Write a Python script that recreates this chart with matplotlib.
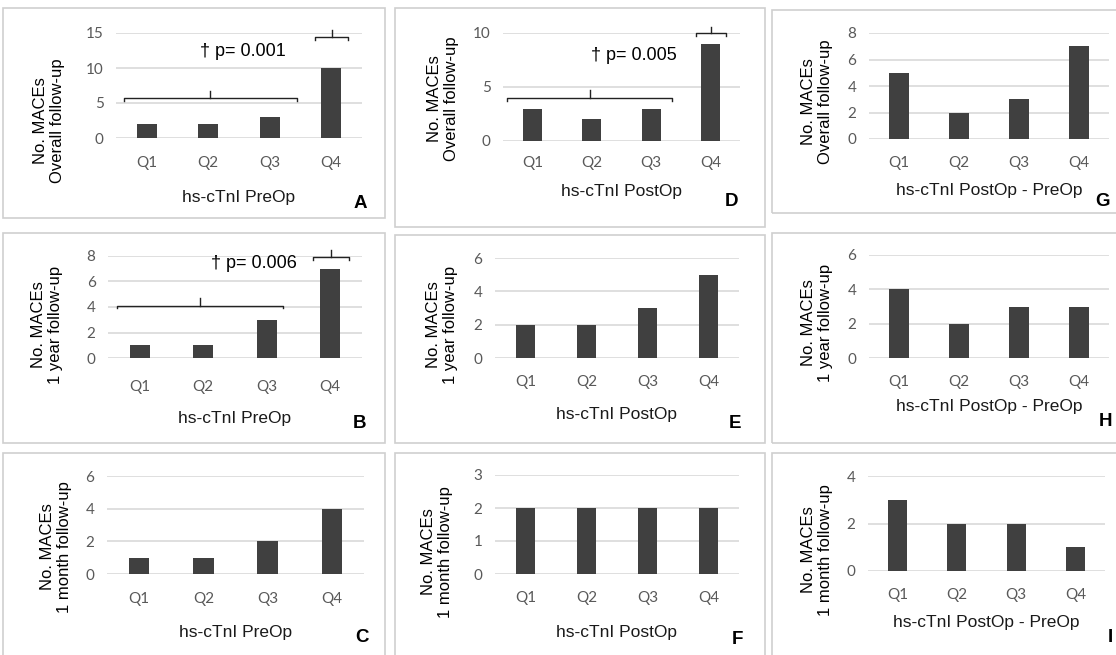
import numpy as np
import matplotlib
matplotlib.use("Agg")
from matplotlib import pyplot as plt
from matplotlib.patches import Rectangle

W, H = 1116, 655

categories = ["Q1", "Q2", "Q3", "Q4"]

# No. of MACEs per quartile
preop_overall = [2, 2, 3, 10]
preop_1yr = [1, 1, 3, 7]
preop_1mo = [1, 1, 2, 4]
postop_overall = [3, 2, 3, 9]
postop_1yr = [2, 2, 3, 5]
postop_1mo = [2, 2, 2, 2]
delta_overall = [5, 2, 3, 7]
delta_1yr = [4, 2, 3, 3]
delta_1mo = [3, 2, 2, 1]

xlabels = ["hs-cTnI PreOp", "hs-cTnI PostOp", "hs-cTnI PostOp - PreOp"]
ylabels = ["No. MACEs\nOverall follow-up", "No. MACEs\n1 year follow-up",
           "No. MACEs\n1 month follow-up"]
p_texts = {"A": "† p= 0.001", "D": "† p= 0.005", "B": "† p= 0.006"}

BAR = "#404040"
GRID = "#d9d9d9"
TICK = "#595959"
BORDER = "#cfcfcf"

# panel: values, xlabel idx, ylabel idx, ymax, ystep,
# border box (l, t, r, b) px, axes (l, r, y0, ytop) px,
# ylabel center px, xlabel offset px, letter pos px, q-label pad
panels = [
    ("A", preop_overall, 0, 0, 15, 5, (3, 8, 385, 218), (116, 362, 138, 33), (49, 121), 59, (360, 203), 13),
    ("B", preop_1yr, 0, 1, 8, 2, (3, 233, 385, 443), (108, 362, 358, 256), (47, 325), 60, (360, 423), 16),
    ("C", preop_1mo, 0, 2, 6, 2, (3, 453, 385, 660), (107, 364, 574, 476), (56, 547), 58, (362, 638), 13),
    ("D", postop_overall, 1, 0, 10, 5, (395, 8, 765, 227), (503, 740, 141, 33), (443, 99), 51, (731, 202), 11),
    ("E", postop_1yr, 1, 1, 6, 2, (395, 235, 765, 443), (495, 739, 358, 258), (442, 325), 57, (735, 423), 12),
    ("F", postop_1mo, 1, 2, 3, 1, (395, 453, 765, 660), (495, 739, 574, 475), (437, 552), 58, (737, 640), 12),
    ("G", delta_overall, 2, 0, 8, 2, (772, 10, 1120, 213), (869, 1109, 139, 33), (817, 102), 51, (1103, 202), 12),
    ("H", delta_1yr, 2, 1, 6, 2, (772, 233, 1120, 443), (869, 1109, 358, 255), (817, 323), 49, (1105, 422), 12),
    ("I", delta_1mo, 2, 2, 4, 2, (772, 453, 1120, 660), (868, 1105, 571, 476), (817, 550), 52, (1110, 637), 12),
]

# brackets in data coords: (x0, x1, y, hook drop, tip rise); text pos (x, y)
brackets = {
    "A": [(-0.37, 2.44, 5.7, 0.4, 1.0), (2.74, 3.27, 14.4, 0.4, 1.1)],
    "D": [(-0.43, 2.35, 4.0, 0.25, 0.7), (2.76, 3.26, 10.0, 0.25, 0.6)],
    "B": [(-0.36, 2.26, 4.1, 0.2, 0.6), (2.73, 3.30, 7.9, 0.2, 0.6)],
}
p_pos = {"A": (1.56, 12.3), "D": (1.71, 7.9), "B": (1.80, 7.45)}

fig = plt.figure(figsize=(W / 100, H / 100), dpi=100)
fig.patch.set_facecolor("white")


def fx(x):
    return x / W


def fy(y):
    return 1 - y / H


x = np.arange(len(categories))
for (letter, vals, xi, yi, ymax, ystep, box, axbox, ylab, xoff, lpos, qpad) in panels:
    l, t, r, b = box
    fig.patches.append(Rectangle((fx(l), fy(b)), fx(r - l), (b - t) / H,
                                 transform=fig.transFigure, fill=False,
                                 edgecolor=BORDER, linewidth=1.2))
    al, ar, y0, ytop = axbox
    ax = fig.add_axes([fx(al), fy(y0), fx(ar - al), (y0 - ytop) / H])
    ax.bar(x, vals, width=0.32, color=BAR, zorder=3)
    ax.set_xlim(-0.5, len(categories) - 0.5)
    ax.set_ylim(0, ymax)
    ax.set_yticks(np.arange(0, ymax + 0.01, ystep))
    ax.yaxis.grid(True, color=GRID, linewidth=1.2, zorder=0)
    ax.set_xticks(x)
    ax.set_xticklabels(categories)
    for s in ax.spines.values():
        s.set_visible(False)
    ax.tick_params(axis="both", length=0, labelcolor=TICK, labelsize=11)
    ax.tick_params(axis="y", pad=9)
    ax.tick_params(axis="x", pad=qpad)
    for lab in ax.get_xticklabels() + ax.get_yticklabels():
        lab.set_family("Lato")
    ax.set_facecolor("none")
    # x label
    fig.text(fx((al + ar) / 2), fy(y0 + xoff), xlabels[xi], ha="center",
             va="center", fontsize=12.5, color="#1a1a1a", family="Liberation Sans")
    # y label
    fig.text(fx(ylab[0]), fy(ylab[1]), ylabels[yi], ha="center", va="center",
             rotation=90, fontsize=12, color="black", family="Liberation Sans",
             linespacing=1.15, multialignment="center")
    # panel letter
    fig.text(fx(lpos[0]), fy(lpos[1]), letter, ha="center", va="center",
             fontsize=13.5, fontweight="bold", color="black", family="Liberation Sans")

    if letter in brackets:
        for (b0, b1, by, drop, rise) in brackets[letter]:
            mid = (b0 + b1) / 2
            ax.plot([b0, b0, b1, b1], [by - drop, by, by, by - drop],
                    color="#222222", lw=1.0, clip_on=False, zorder=4)
            ax.plot([mid, mid], [by, by + rise], color="#222222", lw=1.0,
                    clip_on=False, zorder=4)
        px, py = p_pos[letter]
        ax.text(px, py, p_texts[letter], ha="center", va="center", fontsize=13,
                color="black", family="Liberation Sans", zorder=5)

fig.savefig("out.png", dpi=100)
